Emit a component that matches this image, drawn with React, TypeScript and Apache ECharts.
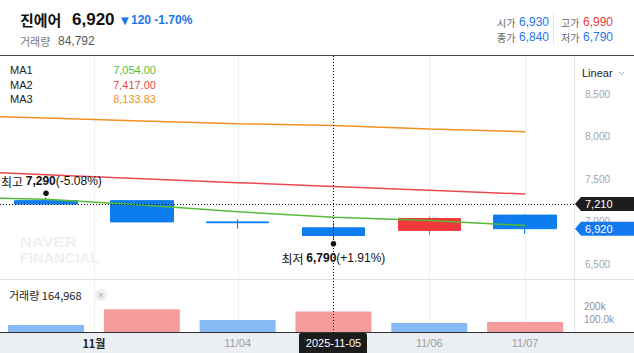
import React, { useEffect, useRef } from 'react';
import * as echarts from 'echarts';

// ---- data (index 0 is the previous session, off-screen to the left) ----
const dates = ['2025-10-30', '2025-10-31', '2025-11-03', '2025-11-04', '2025-11-05', '2025-11-06', '2025-11-07'];
const opens: (number | null)[] = [null, 7250, 7250, 7000, 6930, 6900, 7080];
const closes: (number | null)[] = [null, 7210, 7000, 6990, 6840, 7040, 6920];
const lows: (number | null)[] = [null, 7210, 7000, 6920, 6790, 6850, 6860];
const highs: (number | null)[] = [null, 7290, 7250, 7030, 6990, 7060, 7090];
const volumes: (number | null)[] = [null, 61000, 181000, 99000, 164968, 76000, 84792];
const ma1 = [7290, 7266, 7199, 7120, 7054, 7016, 6958];
const ma2 = [7604, 7556, 7509, 7462, 7417, 7373, 7328];
const ma3 = [8254, 8222, 8188, 8156, 8133.83, 8094, 8061];
const maNames = ['MA1', 'MA2', 'MA3'];
const maColors = ['#55bb3a', '#e84a4f', '#f4901e'];
const priceTicks = [6500, 7000, 7500, 8000, 8500];
const volTickValues = [100000, 200000];
const volTickLabels = ['100.0k', '200k'];
const xTickDates = ['2025-11-04', '2025-11-06', '2025-11-07'];
const monthLabel = '11월';
const monthStartDate = '2025-11-03';
const stockName = '진에어';
const prevClose = 7040;
const hoverIndex = 4;
const crossPrice = 7210;

const FONT = "'Liberation Sans', 'Noto Sans CJK KR', sans-serif";
const KFONT = "'Noto Sans CJK KR', 'Liberation Sans', sans-serif";
const BLUE = '#0c7cef';
const RED = '#f03a3e';
const TXT_BLUE = '#1b76e8';
const TXT_RED = '#eb3b3b';
// the chart div starts OX px left of the page so the hidden previous session sits off-screen
const OX = 98;
const W = 634;
const H = 353;

const fmt = (v: number) => v.toLocaleString('en-US');
const fmt2 = (v: number) => v.toLocaleString('en-US', { minimumFractionDigits: 2, maximumFractionDigits: 2 });

export default function App() {
  const ref = useRef<HTMLDivElement>(null);
  useEffect(() => {
    const chart = echarts.init(ref.current!, undefined, { renderer: 'svg' });
    const candleData = dates.map((_, i) =>
      opens[i] == null ? '-' : [opens[i], closes[i], lows[i], highs[i]]
    );
    const volData = volumes.map((v, i) => {
      if (v == null) return '-';
      const prev = i > 0 ? volumes[i - 1] : null;
      const up = prev != null && v > prev;
      return { value: v, itemStyle: { color: up ? '#f49b9b' : '#85baf5' } };
    });
    const mas = [ma1, ma2, ma3];

    chart.setOption({
      animation: false,
      textStyle: { fontFamily: FONT },
      grid: [
        { left: 0.3, right: 61, top: 51.9, height: 255 },
        { left: 0.3, right: 61, top: 280.6, height: 52.4 },
      ],
      xAxis: [
        { type: 'category', data: dates, gridIndex: 0, boundaryGap: true, show: false },
        { type: 'category', data: dates, gridIndex: 1, boundaryGap: true, show: false },
      ],
      yAxis: [
        {
          type: 'value', gridIndex: 0, position: 'right', min: 6000, max: 9000, interval: 500,
          splitLine: { show: false }, axisLine: { show: false }, axisTick: { show: false },
          axisLabel: {
            color: '#a2a6ac', fontSize: 10, margin: 12, showMinLabel: false, showMaxLabel: false,
            formatter: (v: number) => (priceTicks.includes(v) ? fmt(v) : ''),
          },
        },
        {
          type: 'value', gridIndex: 1, position: 'right', min: 0, max: 400000, interval: 100000,
          splitLine: { show: false }, axisLine: { show: false }, axisTick: { show: false },
          axisLabel: {
            color: '#8c9197', fontSize: 10, margin: 11,
            formatter: (v: number) => {
              const k = volTickValues.indexOf(v);
              return k >= 0 ? volTickLabels[k] : '';
            },
          },
        },
      ],
      series: [
        {
          type: 'candlestick', xAxisIndex: 0, yAxisIndex: 0, data: candleData, barWidth: 63,
          itemStyle: { color: RED, color0: BLUE, borderColor: RED, borderColor0: BLUE, borderWidth: 1 },
        },
        ...mas.map((m, k) => ({
          type: 'line', name: maNames[k], xAxisIndex: 0, yAxisIndex: 0, data: m,
          symbol: 'none', lineStyle: { width: 1.5, color: maColors[k] }, z: 3,
        })),
        { type: 'bar', xAxisIndex: 1, yAxisIndex: 1, data: volData, barWidth: 76 },
      ],
    });

    // pixel helpers in page coordinates
    const xC = (i: number) => (chart.convertToPixel({ xAxisIndex: 0 }, dates[i]) as number) - OX;
    const yP = (v: number) => chart.convertToPixel({ yAxisIndex: 0 }, v) as number;
    const xD = (d: string) => xC(dates.indexOf(d));

    const els: any[] = [];
    // backgrounds / frame
    els.push({ type: 'rect', z: 0, shape: { x: 0, y: 333, width: W, height: 20 }, style: { fill: '#ebeef2' } });
    const monthX = (xD(monthStartDate) + xC(dates.indexOf(monthStartDate) - 1)) / 2;
    const gridXs = [monthX, ...xTickDates.map(xD), xC(hoverIndex)];
    gridXs.forEach((gx) =>
      els.push({ type: 'line', z: 0, shape: { x1: Math.round(gx) + 0.5, y1: 56, x2: Math.round(gx) + 0.5, y2: 333 }, style: { stroke: '#eff0f2', lineWidth: 1 } })
    );
    els.push({ type: 'line', z: 0, shape: { x1: 574.5, y1: 56, x2: 574.5, y2: 333 }, style: { stroke: '#e3e6ea', lineWidth: 1 } });
    els.push({ type: 'line', z: 0, shape: { x1: 0, y1: 279.5, x2: W, y2: 279.5 }, style: { stroke: '#dcdfe3', lineWidth: 1 } });
    els.push({ type: 'line', z: 50, shape: { x1: 0, y1: 55.5, x2: W, y2: 55.5 }, style: { stroke: '#4a4a4a', lineWidth: 1 } });
    els.push({ type: 'line', z: 50, shape: { x1: 0, y1: 332.5, x2: W, y2: 332.5 }, style: { stroke: '#333333', lineWidth: 1 } });

    // watermark
    els.push({ type: 'text', z: 1, x: 20, y: 241.5, scaleX: 1.18, style: { text: 'NAVER', font: "bold 14px 'Liberation Sans', sans-serif", fill: '#eef0f3', verticalAlign: 'middle' } });
    els.push({ type: 'text', z: 1, x: 20, y: 258, scaleX: 1.05, style: { text: 'FINANCIAL', font: "bold 14px 'Liberation Sans', sans-serif", fill: '#eef0f3', verticalAlign: 'middle' } });

    // header
    const last = closes[closes.length - 1] as number;
    const chg = last - prevClose;
    const chgPct = (chg / prevClose) * 100;
    els.push({ type: 'text', z: 100, x: 20, y: 19, style: { text: stockName, font: `bold 15px ${KFONT}`, fill: '#111', verticalAlign: 'middle' } });
    els.push({ type: 'text', z: 100, x: 72, y: 19, style: { text: fmt(last), font: `bold 17px ${FONT}`, fill: '#111', verticalAlign: 'middle' } });
    els.push({ type: 'text', z: 100, x: 121, y: 20, style: { text: (chg < 0 ? '▼' : '▲'), font: `10px 'DejaVu Sans', sans-serif`, fill: TXT_BLUE, verticalAlign: 'middle' } });
    els.push({ type: 'text', z: 100, x: 131, y: 20, style: { text: `${fmt(Math.abs(chg))} ${chgPct.toFixed(2)}%`, font: `bold 12px ${FONT}`, fill: TXT_BLUE, verticalAlign: 'middle' } });
    els.push({ type: 'text', z: 100, x: 20, y: 41, style: { text: '거래량', font: `11px ${KFONT}`, fill: '#777', verticalAlign: 'middle' } });
    els.push({ type: 'text', z: 100, x: 58, y: 41, style: { text: fmt(volumes[volumes.length - 1] as number), font: `12px ${FONT}`, fill: '#555', verticalAlign: 'middle' } });

    const hv = hoverIndex;
    const ohlc = [
      { l: '시가', v: opens[hv] as number, x: 497, y: 22, c: TXT_BLUE },
      { l: '고가', v: highs[hv] as number, x: 561, y: 22, c: TXT_RED },
      { l: '종가', v: closes[hv] as number, x: 497, y: 37, c: TXT_BLUE },
      { l: '저가', v: lows[hv] as number, x: 561, y: 37, c: TXT_BLUE },
    ];
    ohlc.forEach((o) => {
      els.push({ type: 'text', z: 100, x: o.x, y: o.y, style: { text: o.l, font: `10px ${KFONT}`, fill: '#666', verticalAlign: 'middle' } });
      els.push({ type: 'text', z: 100, x: o.x + 22, y: o.y, style: { text: fmt(o.v), font: `12px ${FONT}`, fill: o.c, verticalAlign: 'middle' } });
    });
    els.push({ type: 'line', z: 100, shape: { x1: 553.5, y1: 14, x2: 553.5, y2: 45 }, style: { stroke: '#e6e6e6', lineWidth: 1 } });

    // MA legend
    mas.forEach((m, k) => {
      const y = 70 + k * 14.5;
      els.push({ type: 'text', z: 100, x: 10, y, style: { text: maNames[k], font: `11px ${FONT}`, fill: '#222', verticalAlign: 'middle' } });
      els.push({ type: 'text', z: 100, x: 156, y, style: { text: fmt2(m[hv]), font: `11px ${FONT}`, fill: maColors[k], align: 'right', verticalAlign: 'middle' } });
    });

    // Linear selector
    els.push({ type: 'text', z: 100, x: 582, y: 73, style: { text: 'Linear', font: `11px ${FONT}`, fill: '#222', verticalAlign: 'middle' } });
    els.push({ type: 'polyline', z: 100, shape: { points: [[619, 72], [621.5, 74.5], [624, 72]] }, style: { stroke: '#aaa', lineWidth: 1, fill: 'none' } });

    // crosshair
    const cx = Math.round(xC(hv)) + 0.5;
    const cy = Math.round(yP(crossPrice)) + 0.5;
    els.push({ type: 'line', z: 90, shape: { x1: cx, y1: 56, x2: cx, y2: 333 }, style: { stroke: '#111', lineWidth: 1, lineDash: [1, 2] } });
    els.push({ type: 'line', z: 90, shape: { x1: 0, y1: cy, x2: 574, y2: cy }, style: { stroke: '#111', lineWidth: 1, lineDash: [1, 2] } });

    const badge = (y: number, fill: string, text: string) => {
      els.push({ type: 'polygon', z: 95, shape: { points: [[575, y], [581, y - 7], [634, y - 7], [634, y + 7], [581, y + 7]] }, style: { fill } });
      els.push({ type: 'text', z: 96, x: 585, y, style: { text, font: `11px ${FONT}`, fill: '#fff', verticalAlign: 'middle' } });
    };
    badge(yP(crossPrice), '#1d1d1d', fmt(crossPrice));
    badge(yP(last), '#1479ee', fmt(last));

    // high / low annotations
    let hiIdx = 1, loIdx = 1;
    for (let i = 1; i < dates.length; i++) {
      if ((highs[i] as number) > (highs[hiIdx] as number)) hiIdx = i;
      if ((lows[i] as number) < (lows[loIdx] as number)) loIdx = i;
    }
    const hi = highs[hiIdx] as number;
    const lo = lows[loIdx] as number;
    const pct = (r: number) => {
      const p = ((last - r) / r) * 100;
      return (p >= 0 ? '+' : '') + p.toFixed(2) + '%';
    };
    const rich = {
      a: { font: `12px ${KFONT}`, fill: '#111' },
      b: { font: `bold 12px ${FONT}`, fill: '#111' },
      c: { font: `12px ${FONT}`, fill: '#111' },
    };
    els.push({ type: 'circle', z: 100, shape: { cx: xC(hiIdx), cy: yP(hi) - 4, r: 2.8 }, style: { fill: '#111' } });
    els.push({ type: 'text', z: 100, x: 1, y: 181, style: { text: `{a|최고 }{b|${fmt(hi)}}{c|(${pct(hi)})}`, rich, verticalAlign: 'middle' } });
    els.push({ type: 'circle', z: 100, shape: { cx: xC(loIdx), cy: yP(lo) + 4, r: 2.8 }, style: { fill: '#111' } });
    els.push({ type: 'text', z: 100, x: xC(loIdx), y: 258, style: { text: `{a|최저 }{b|${fmt(lo)}}{c|(${pct(lo)})}`, rich, align: 'center', verticalAlign: 'middle' } });

    // volume legend
    els.push({ type: 'text', z: 100, x: 9, y: 295, style: { text: `거래량 ${fmt(volumes[hv] as number)}`, font: `11px ${KFONT}`, fill: '#222', verticalAlign: 'middle' } });
    els.push({ type: 'circle', z: 100, shape: { cx: 101, cy: 295, r: 6 }, style: { fill: '#efefef' } });
    els.push({ type: 'text', z: 101, x: 101, y: 295, style: { text: '×', font: `10px ${FONT}`, fill: '#b0b0b0', align: 'center', verticalAlign: 'middle' } });

    // x labels
    els.push({ type: 'text', z: 100, x: monthX, y: 343, style: { text: monthLabel, font: `bold 11px ${KFONT}`, fill: '#222', align: 'center', verticalAlign: 'middle' } });
    xTickDates.forEach((d) => {
      const [, mm, dd] = d.split('-');
      els.push({ type: 'text', z: 100, x: xD(d), y: 343, style: { text: `${mm}/${dd}`, font: `11px ${FONT}`, fill: '#9a9ea4', align: 'center', verticalAlign: 'middle' } });
    });
    els.push({ type: 'rect', z: 100, shape: { x: cx - 34.5, y: 333, width: 68, height: 20, r: [2, 2, 0, 0] }, style: { fill: '#1c1c1c' } });
    els.push({ type: 'text', z: 101, x: cx, y: 343, style: { text: dates[hv], font: `11px ${FONT}`, fill: '#fff', align: 'center', verticalAlign: 'middle' } });

    chart.setOption({ graphic: { elements: [{ type: 'group', x: OX, y: 0, children: els }] } });
    return () => chart.dispose();
  }, []);
  return <div ref={ref} style={{ position: 'absolute', left: -OX, top: 0, width: W + OX, height: H, background: '#fff' }} />;
}
